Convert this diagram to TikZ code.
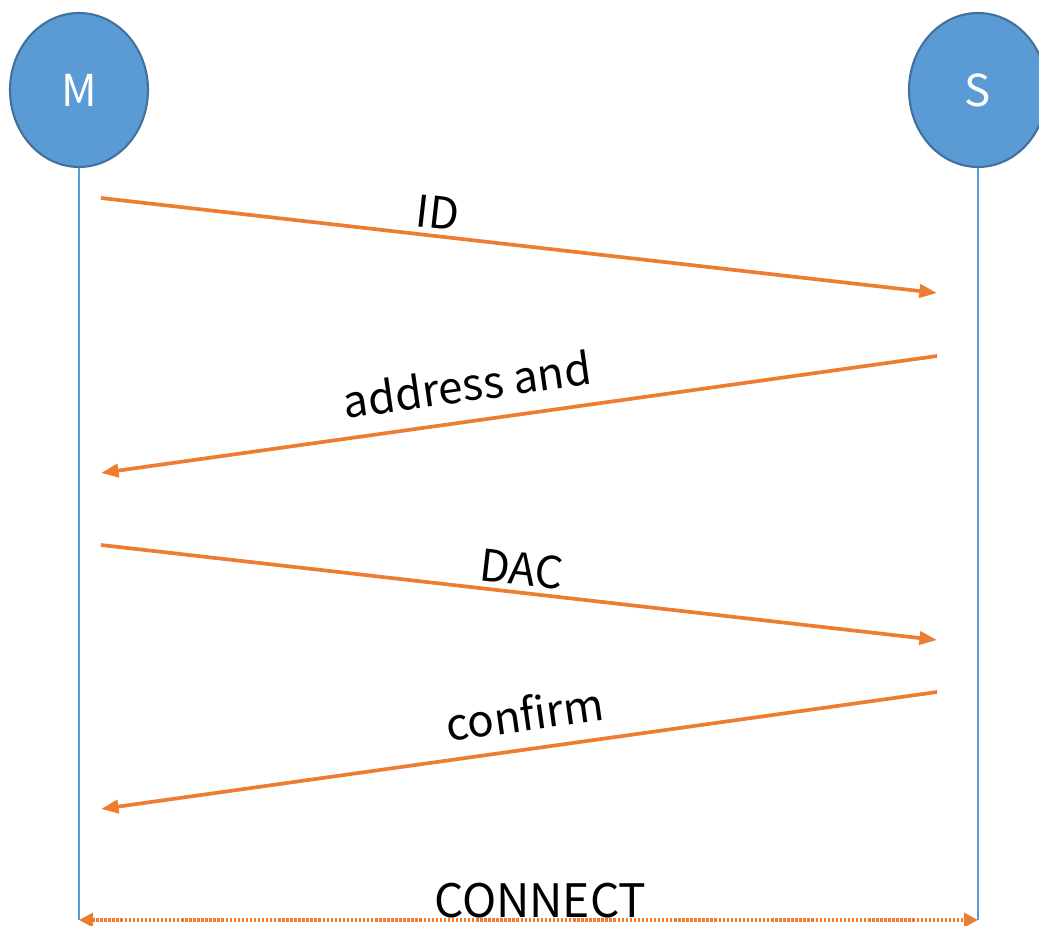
\documentclass[tikz,border=0pt]{standalone}
\usepackage{fontspec}
\setmainfont{Noto Sans CJK SC}
\usetikzlibrary{arrows.meta, positioning, shapes.geometric}
\definecolor{sqblue}{HTML}{5B9BD5}
\definecolor{sqedge}{HTML}{41719C}
\definecolor{sqorange}{HTML}{ED7D31}

\begin{document}
\begin{tikzpicture}[
  x=0.02cm, y=-0.02cm,
  every node/.style={font=\fontsize{25}{30}\selectfont},
  actor/.style={ellipse, draw=sqedge, line width=1.2pt, fill=sqblue, text=white, minimum width=2.76cm, minimum height=3.08cm, inner sep=0pt},
  life/.style={draw=sqblue, line width=0.6pt},
  msg/.style={draw=sqorange, line width=2.1pt, -{Triangle[length=10pt, width=7.5pt]}},
  msglbl/.style={sloped, above, inner sep=1pt},
]
\useasboundingbox (0,0) rectangle (1039,926);

% Master and slave
\node[actor] (M) at (79,90) {M};
\node[actor] (S) at (978,90) {S};

% Lifelines
\coordinate (mEnd) at (79,920);
\coordinate (sEnd) at (978,920);
\draw[life] (M.south) -- (mEnd);
\draw[life] (S.south) -- (sEnd);

% Message end points
\coordinate (m1) at (101,198);  \coordinate (s1) at (937,293);
\coordinate (s2) at (937,356);  \coordinate (m2) at (101,473);
\coordinate (m3) at (101,545);  \coordinate (s3) at (937,640);
\coordinate (s4) at (937,692);  \coordinate (m4) at (101,809);

% Messages
\draw[msg] (m1) -- node[msglbl, pos=0.40, above=2pt] (lid) {\textit{ID}} (s1);
\draw[msg] (s2) -- node[msglbl, pos=0.556, above=9pt] (laddr) {address and} (m2);
\draw[msg] (m3) -- node[msglbl, pos=0.50, above=2pt] (ldac) {\textit{DAC}} (s3);
\draw[msg] (s4) -- node[msglbl, pos=0.487, above=8pt] (lconf) {confirm} (m4);

% Connection
\draw[draw=sqorange, line width=2pt, dash pattern=on 1.4pt off 0.9pt, {Triangle[length=8pt, width=8pt]}-{Triangle[length=8pt, width=8pt]}] (mEnd) -- node[above, inner sep=0pt, pos=0.513, xscale=1.05, yscale=1.05] (lcon) {CONNECT} (sEnd);

\end{tikzpicture}
\end{document}
